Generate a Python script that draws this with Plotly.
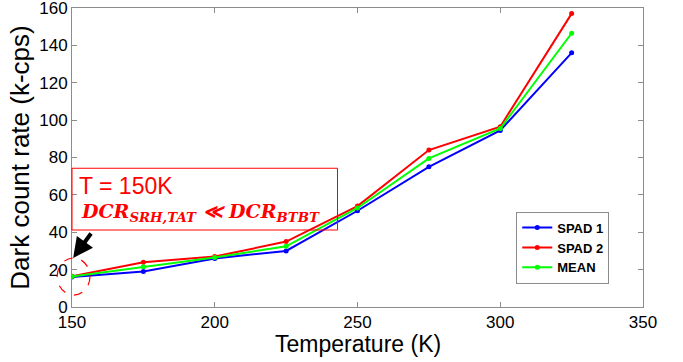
import plotly.graph_objects as go

temps = [150, 175, 200, 225, 250, 275, 300, 325]
spad1 = [16, 19, 26, 30, 51.5, 75, 94.5, 136]
spad2 = [16.5, 24, 27, 35, 54, 84, 96.5, 157]
mean = [16.3, 21.5, 26.5, 32.5, 53, 79.5, 95.5, 146.5]

series = [("SPAD 1", spad1, "#0000ff"), ("SPAD 2", spad2, "#ff0000"), ("MEAN", mean, "#00ff00")]

fig = go.Figure()
for name, vals, col in series:
    fig.add_trace(go.Scatter(x=temps, y=vals, name=name, mode="lines+markers",
                             line=dict(color=col, width=2),
                             marker=dict(color=col, size=5, symbol="circle")))

axis_common = dict(showline=True, linecolor="#8c8c8c", linewidth=1, mirror="ticks",
                   ticks="inside", ticklen=5, tickcolor="#8c8c8c", showgrid=False,
                   zeroline=False, tickfont=dict(size=17, color="black"),
                   ticklabeloverflow="allow", automargin=False)

fig.update_xaxes(range=[150, 350], dtick=50, **axis_common)
fig.update_yaxes(range=[0, 160], dtick=20,
                 title=dict(text="Dark count rate (k-cps)", font=dict(size=26, color="black"), standoff=2),
                 **axis_common)

fig.update_layout(
    width=683, height=362,
    margin=dict(l=72, r=40, t=8, b=55),
    plot_bgcolor="white", paper_bgcolor="white",
    font=dict(family="Liberation Sans, Arial, sans-serif", color="black"),
    legend=dict(x=0.778, y=0.319, xanchor="left", yanchor="top",
                bordercolor="#8c8c8c", borderwidth=1, bgcolor="white",
                font=dict(size=13, color="black", family="Liberation Sans, Arial, sans-serif", weight="bold"),
                itemwidth=30, tracegroupgap=0),
    showlegend=True,
)

# x axis title
fig.add_annotation(xref="paper", yref="paper", x=0.5, y=-0.124, xanchor="center", yanchor="middle",
                   text="Temperature (K)", showarrow=False, font=dict(size=23, color="black"))

# annotation box
fig.add_shape(type="rect", xref="paper", yref="paper", x0=0.0, x1=0.465, y0=0.2575, y1=0.464,
              line=dict(color="#ff0000", width=1), fillcolor="rgba(0,0,0,0)")
fig.add_annotation(xref="paper", yref="paper", x=0.008, y=0.405, xanchor="left", yanchor="middle",
                   text="T = 150K", showarrow=False, font=dict(size=23, color="#ff0000"))
fig.add_annotation(xref="paper", yref="paper", x=0.012, y=0.315, xanchor="left", yanchor="middle",
                   text="<b><i>DCR<sub>SRH,TAT</sub> ≪ DCR<sub>BTBT</sub></i></b>", showarrow=False,
                   font=dict(size=19, color="#ff0000", family="DejaVu Serif, serif"))
# dashed circle
fig.add_shape(type="circle", xref="paper", yref="paper", x0=-0.026, x1=0.0315, y0=0.040, y1=0.164,
              line=dict(color="#ff0000", width=1.2, dash="dash"))
# arrow
fig.add_annotation(xref="paper", yref="paper", x=0.002, y=0.164, ax=19, ay=-26, text="",
                   showarrow=True, arrowhead=2, arrowsize=1, arrowwidth=4, arrowcolor="black")

fig.write_html("out.html")
